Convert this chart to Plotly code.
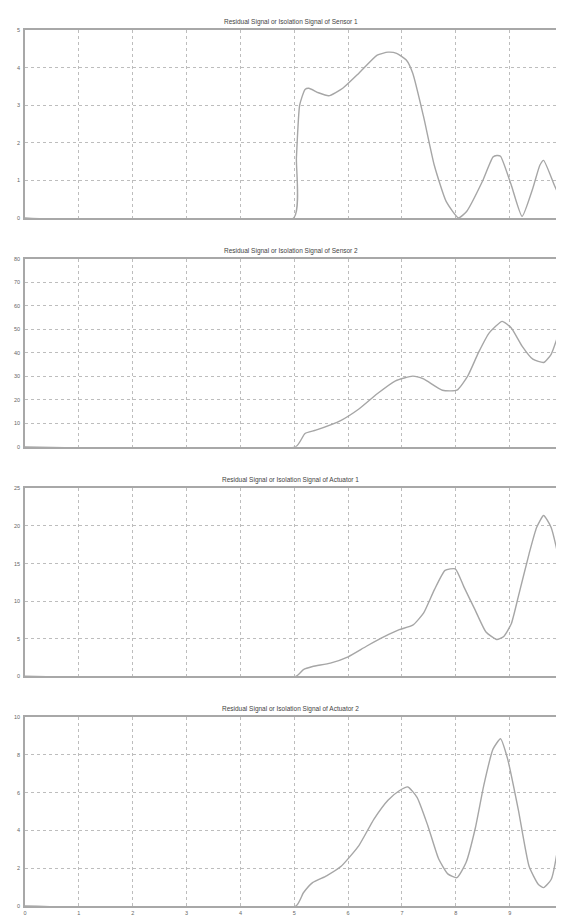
import plotly.graph_objects as go

titles = [
    "Residual Signal or Isolation Signal of Sensor 1",
    "Residual Signal or Isolation Signal of Sensor 2",
    "Residual Signal or Isolation Signal of Actuator 1",
    "Residual Signal or Isolation Signal of Actuator 2",
]

x_s1 = [0, 4.99, 5.04, 5.1, 5.2, 5.27, 5.45, 5.64, 5.9, 6.2, 6.54, 6.74, 6.9, 7.08, 7.2, 7.4, 7.6, 7.82, 8.05, 8.2, 8.49, 8.69, 8.76, 8.83, 9.03, 9.23, 9.43, 9.56, 9.63, 9.83, 10.0]
y_s1 = [0, 0, 1.6, 3.0, 3.42, 3.45, 3.33, 3.25, 3.45, 3.85, 4.33, 4.41, 4.38, 4.2, 3.85, 2.7, 1.4, 0.44, 0.0, 0.17, 0.96, 1.62, 1.66, 1.64, 0.87, 0.04, 0.79, 1.4, 1.53, 0.87, 0.35]

x_s2 = [0, 5.03, 5.2, 5.4, 5.87, 6.2, 6.54, 6.88, 7.2, 7.4, 7.75, 8.02, 8.22, 8.42, 8.62, 8.86, 9.03, 9.23, 9.43, 9.63, 9.77, 9.93, 10.0]
y_s2 = [0, 0, 5.6, 7, 11.2, 16, 22.5, 28, 30, 28.8, 24, 24, 30, 40, 48.4, 53.3, 50.5, 42.8, 37.2, 35.8, 39.3, 49.8, 57]

x_a1 = [0, 5.03, 5.17, 5.34, 5.67, 6.0, 6.34, 6.68, 6.95, 7.2, 7.4, 7.6, 7.8, 7.99, 8.15, 8.36, 8.56, 8.76, 8.89, 9.03, 9.16, 9.36, 9.5, 9.63, 9.77, 9.93, 10.0]
y_a1 = [0, 0, 0.9, 1.3, 1.76, 2.6, 4.0, 5.3, 6.2, 6.8, 8.4, 11.5, 14.1, 14.3, 11.9, 8.8, 5.9, 4.9, 5.3, 7.0, 10.6, 16.3, 19.8, 21.4, 19.8, 15, 10.6]

x_a2 = [0, 5.03, 5.17, 5.34, 5.6, 5.87, 6.2, 6.48, 6.74, 6.95, 7.11, 7.28, 7.48, 7.68, 7.85, 8.02, 8.19, 8.36, 8.52, 8.69, 8.83, 8.96, 9.16, 9.36, 9.53, 9.63, 9.77, 9.9, 10.0]
y_a2 = [0, 0, 0.7, 1.24, 1.6, 2.1, 3.2, 4.6, 5.6, 6.1, 6.3, 5.75, 4.25, 2.5, 1.7, 1.5, 2.3, 4.1, 6.4, 8.3, 8.85, 7.8, 5.1, 2.1, 1.15, 0.97, 1.4, 3.2, 5.8]

y_ranges = [[0, 5], [0, 80], [0, 25], [0, 10]]
y_dtick = [1, 10, 5, 2]
x_ticks = list(range(0, 11))
# the original picture is cropped just before x = 10 at its right edge
x_view = [0, 9.86]

series = [(x_s1, y_s1), (x_s2, y_s2), (x_a1, y_a1), (x_a2, y_a2)]

# vertical domains (paper) for the 4 panels
domains = [[0.7855, 1.0], [0.5244, 0.739], [0.2622, 0.4767], [0.0, 0.2157]]

fig = go.Figure()
grid_col = "#bdbdbd"
axis_col = "#a8a8a8"
line_col = "#a6a6a6"
font = dict(family="Liberation Sans, Arial, sans-serif", size=5.5, color="#666666")

for i, (xs, ys) in enumerate(series):
    n = "" if i == 0 else str(i + 1)
    fig.add_trace(go.Scatter(
        x=xs, y=ys, mode="lines", xaxis="x" + n, yaxis="y" + n,
        line=dict(color=line_col, width=1.4, shape="spline", smoothing=0.5),
        showlegend=False, hoverinfo="skip",
    ))
    xa = dict(
        domain=[0, 1], range=x_view, anchor="y" + n,
        tickmode="array", tickvals=x_ticks,
        ticktext=[str(t) for t in x_ticks] if i == 3 else [""] * len(x_ticks),
        showticklabels=(i == 3),
        showgrid=True, gridcolor=grid_col, griddash="dot", gridwidth=1,
        showline=True, linecolor=axis_col, linewidth=1.5, mirror=True,
        zeroline=False, ticks="", tickfont=font, ticklabelstandoff=1,
    )
    ya = dict(
        domain=domains[i], range=y_ranges[i], anchor="x" + n,
        dtick=y_dtick[i], tick0=0,
        showgrid=True, gridcolor=grid_col, griddash="dot", gridwidth=1,
        showline=True, linecolor=axis_col, linewidth=1.5, mirror=False,
        zeroline=False, ticks="", tickfont=font, ticklabelstandoff=2,
    )
    fig.layout["xaxis" + n] = xa
    fig.layout["yaxis" + n] = ya
    fig.add_annotation(
        text=titles[i], xref="paper", yref="paper", x=0.5, y=domains[i][1],
        yanchor="bottom", xanchor="center", yshift=2, showarrow=False,
        font=dict(family="Liberation Sans, Arial, sans-serif", size=6.5, color="#444444"),
    )

# page has an 8px body margin on each side: keep the page within the window
fig.update_layout(
    width=548, height=907,
    margin=dict(l=17, r=0, t=22, b=9),
    paper_bgcolor="white", plot_bgcolor="white",
)

fig.write_html("out.html")
